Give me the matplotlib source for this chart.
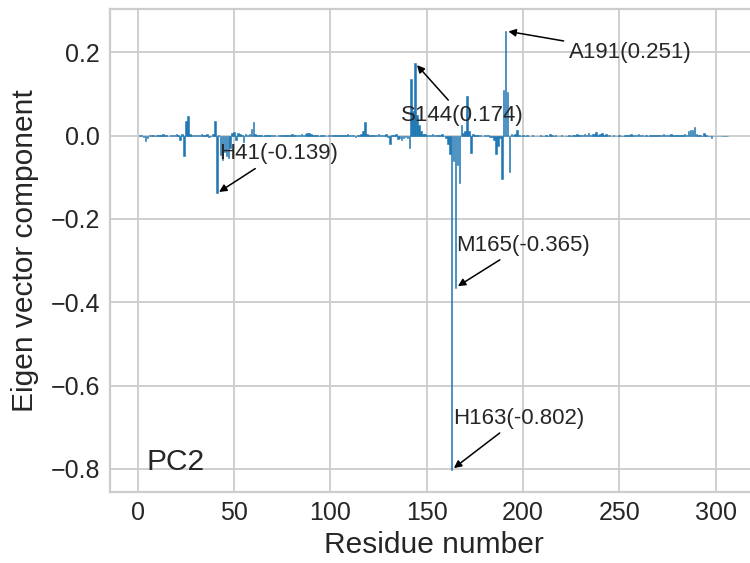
"""PC2 eigenvector components per residue."""

import matplotlib
matplotlib.use("Agg")
import matplotlib.pyplot as plt
import numpy as np

# eigenvector component of PC2 for residues 1..306
pc2_values = [
    0.002, 0.001, -0.003, -0.012, -0.006, 0.001, 0.002, 0.001, 0.000, 0.001,
    0.001, 0.002, 0.004, 0.001, 0.002, 0.000, 0.001, 0.002, 0.001, 0.003,
    0.002, -0.010, 0.004, -0.050, 0.036, 0.047, 0.004, 0.002, 0.001, 0.002,
    0.001, 0.002, 0.003, 0.001, 0.002, 0.004, -0.004, -0.002, 0.003, 0.036,
    -0.139, 0.002, -0.046, -0.058, -0.040, -0.050, -0.054, -0.030, 0.007, 0.008,
    -0.010, 0.006, 0.004, 0.002, -0.015, 0.003, 0.002, 0.004, 0.015, 0.033,
    0.003, 0.001, 0.002, 0.001, 0.000, 0.001, 0.002, 0.001, 0.001, 0.002,
    0.001, 0.000, 0.001, 0.002, 0.001, 0.001, 0.002, 0.002, 0.001, 0.003,
    0.001, 0.002, 0.001, 0.002, 0.003, 0.002, 0.004, 0.006, 0.007, 0.003,
    0.002, 0.001, 0.002, 0.000, 0.001, 0.002, 0.001, 0.000, 0.001, 0.002,
    0.001, 0.002, 0.001, 0.001, 0.002, 0.001, 0.002, 0.001, 0.003, 0.002,
    0.001, 0.002, -0.003, 0.001, 0.002, 0.003, 0.010, 0.032, 0.004, 0.002,
    0.001, 0.002, 0.001, 0.002, 0.003, 0.002, 0.001, 0.002, 0.003, -0.003,
    -0.020, 0.002, 0.001, 0.003, -0.008, -0.006, -0.010, -0.007, -0.004, -0.005,
    -0.030, 0.135, 0.060, 0.174, 0.050, 0.025, 0.012, 0.004, 0.003, 0.002,
    0.001, 0.002, 0.003, 0.002, 0.001, 0.002, 0.001, 0.003, -0.002, -0.005,
    -0.020, -0.045, -0.802, -0.060, -0.365, -0.070, -0.113, 0.026, 0.005, 0.010,
    0.095, 0.012, -0.042, 0.004, 0.002, 0.001, 0.002, 0.001, 0.000, 0.002,
    0.001, 0.002, -0.003, -0.004, -0.010, -0.045, -0.025, -0.005, -0.105, 0.110,
    0.251, 0.105, -0.088, 0.004, 0.002, 0.003, 0.014, 0.001, 0.000, 0.001,
    0.000, 0.001, 0.000, 0.000, 0.001, 0.000, 0.000, 0.000, 0.001, 0.000,
    0.000, 0.001, 0.000, 0.003, 0.002, -0.002, 0.001, 0.000, 0.000, 0.001,
    0.000, 0.000, 0.000, 0.001, 0.000, 0.002, 0.001, 0.003, 0.002, 0.001,
    0.002, 0.003, 0.002, 0.005, 0.002, 0.004, 0.003, 0.008, 0.002, 0.003,
    0.005, 0.002, 0.004, 0.001, 0.002, 0.000, 0.001, 0.000, 0.000, 0.001,
    0.000, 0.000, 0.001, 0.002, 0.001, 0.003, 0.002, 0.001, 0.002, 0.003,
    0.001, 0.002, 0.000, 0.001, 0.000, 0.001, 0.002, 0.001, 0.002, 0.001,
    0.001, 0.002, 0.003, 0.002, 0.001, 0.002, 0.003, 0.002, 0.001, 0.002,
    0.002, 0.001, 0.002, 0.003, 0.002, 0.012, 0.014, 0.013, 0.020, 0.003,
    0.002, 0.001, 0.000, 0.007, 0.001, 0.000, -0.002, -0.005, 0.000, 0.000,
    0.000, 0.000, 0.000, 0.000, 0.000, 0.000,
]
residues = np.arange(1, len(pc2_values) + 1)

# labelled residues and where their labels sit
hot_labels = ["H41", "S144", "A191", "M165", "H163"]
hot_residues = [41, 144, 191, 165, 163]
label_pos = [(42, -0.057), (136.5, 0.035), (224, 0.186), (165.5, -0.276), (164, -0.691)]

plt.rcParams.update({
    "font.family": ["Liberation Sans", "DejaVu Sans"],
    "text.color": "0.15",
    "axes.labelcolor": "0.15",
    "xtick.color": "0.15",
    "ytick.color": "0.15",
    "axes.edgecolor": "0.8",
    "grid.color": "0.8",
})

fig = plt.figure(figsize=(7.5, 5.63), dpi=100)
W, H = 750, 563
ax = fig.add_axes([109.5 / W, (H - 491.7) / H, (757.3 - 109.5) / W, (491.7 - 9) / H])

vals = np.array(pc2_values)
ax.bar(residues, vals, width=0.8, color="#1f77b4", edgecolor="#1f77b4", linewidth=0.4)

for name, res, (tx, ty) in zip(hot_labels, hot_residues, label_pos):
    v = vals[res - 1]
    ax.annotate(
        f"{name}({v:.3f})",
        xy=(res, v),
        xytext=(tx, ty),
        fontsize=16,
        arrowprops=dict(arrowstyle="-|>", color="black", lw=1.1, mutation_scale=11),
    )

ax.text(4.5, -0.803, "PC2", fontsize=21.5)

ax.set_xlabel("Residue number", fontsize=21.5, labelpad=4)
ax.set_ylabel("Eigen vector component", fontsize=21.5, labelpad=8)
ax.tick_params(labelsize=18, length=0, pad=7)
ax.grid(True, lw=1.3)
ax.set_axisbelow(True)
for s in ax.spines.values():
    s.set_linewidth(1.6)

fig.savefig("out.png", dpi=100)
